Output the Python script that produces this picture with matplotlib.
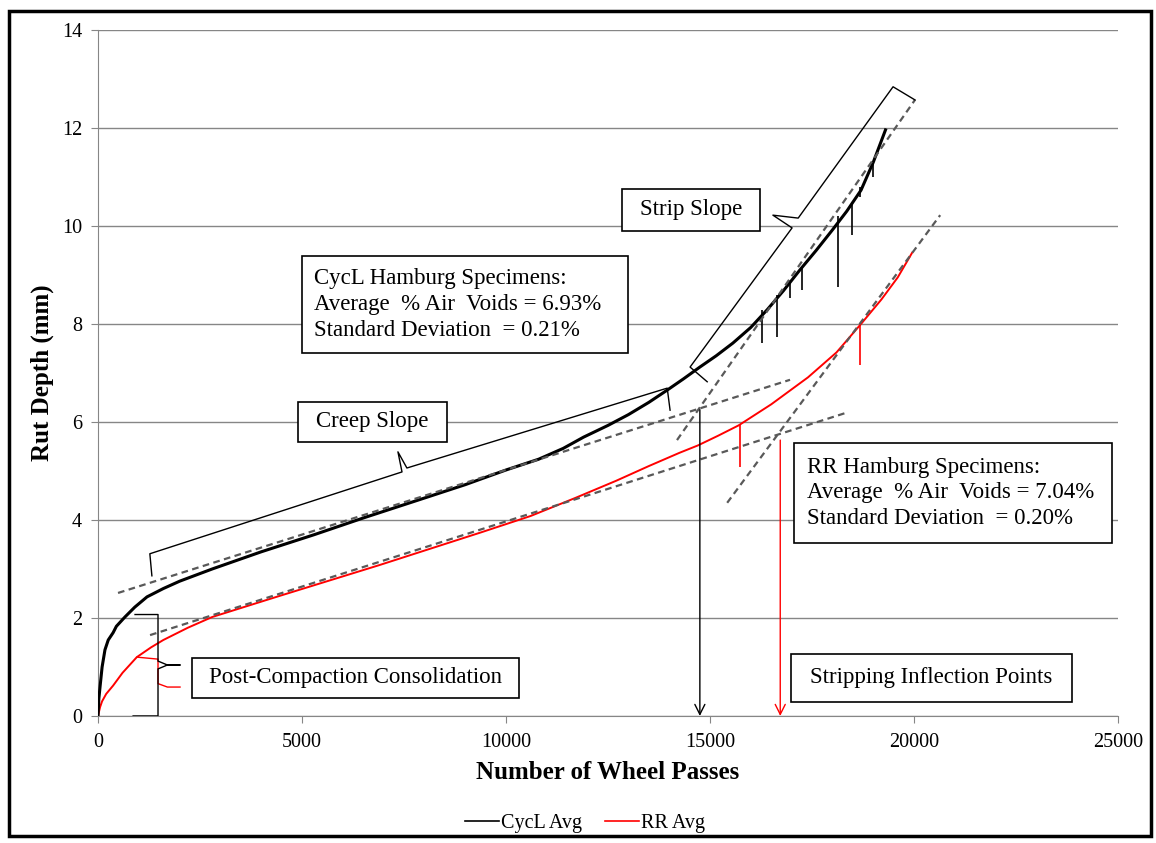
import matplotlib
matplotlib.use("Agg")
import matplotlib.pyplot as plt
from matplotlib.patches import Rectangle
from matplotlib.lines import Line2D

plt.rcParams['font.family'] = ['Liberation Serif', 'DejaVu Serif']

# --- data ---
cycl_x = [0, 20, 50, 100, 170, 250, 370, 450, 660, 900, 1200, 1600, 2000, 2800,
          4000, 5300, 6500, 7900, 9000, 10000, 10800, 11400, 11900, 12500, 13000,
          13500, 13950, 14350, 14750, 15150, 15560, 16000, 16400, 16800, 17200,
          17600, 18000, 18350, 18700, 19000, 19300]
cycl_y = [0, 0.35, 0.6, 1.0, 1.35, 1.55, 1.7, 1.83, 2.02, 2.22, 2.43, 2.6, 2.75,
          3.0, 3.35, 3.7, 4.04, 4.42, 4.72, 5.02, 5.24, 5.46, 5.69, 5.93, 6.15,
          6.4, 6.65, 6.88, 7.12, 7.35, 7.61, 7.93, 8.29, 8.68, 9.10, 9.5, 9.92,
          10.3, 10.73, 11.3, 11.96]

rr_x = [0, 50, 100, 200, 370, 600, 950, 1300, 1600, 2200, 2800, 4450, 6900, 9400,
        10600, 11700, 12700, 13500, 14250, 14700, 15200, 15700, 16500, 17400,
        18100, 18700, 19200, 19600, 19950]
rr_y = [0, 0.18, 0.3, 0.45, 0.62, 0.88, 1.2, 1.4, 1.55, 1.8, 2.02, 2.45, 3.08,
        3.75, 4.08, 4.45, 4.8, 5.1, 5.37, 5.52, 5.72, 5.93, 6.36, 6.91, 7.42,
        8.0, 8.5, 8.95, 9.45]

# downward spikes in the averaged data (x, top, bottom)
cycl_spike_x = [16270, 16640, 16960, 17250, 18140, 18480, 18680, 19000]
cycl_spike_top = [8.28, 8.6, 8.9, 9.16, 10.2, 10.45, 10.8, 11.29]
cycl_spike_bot = [7.61, 7.73, 8.53, 8.69, 8.76, 9.82, 10.6, 11.0]
rr_spike_x = [15730, 18680]
rr_spike_top = [5.94, 7.98]
rr_spike_bot = [5.08, 7.16]

# fitted creep / strip slope lines (start, end)
cycl_creep = ([490, 16960], [2.51, 6.86])
rr_creep = ([1275, 18310], [1.65, 6.18])
cycl_strip = ([14190, 20020], [5.63, 12.57])
rr_strip = ([15420, 20640], [4.35, 10.22])

# stripping inflection points
sip_cycl = (14750, 6.25)
sip_rr = (16720, 5.63)

# bracket outlines
creep_brace_x = [1320, 1270, 7450, 7350, 7570, 13950, 14020]
creep_brace_y = [2.86, 3.31, 4.98, 5.39, 5.06, 6.69, 6.24]
strip_brace_x = [14930, 14510, 17010, 16540, 17160, 19485, 20025]
strip_brace_y = [6.82, 7.12, 9.96, 10.22, 10.16, 12.84, 12.57]
pcc_black_x = [907, 1470, 1470, 1700, 2010, 1700, 1470, 1470, 860]
pcc_black_y = [2.07, 2.07, 1.12, 1.04, 1.04, 1.04, 0.96, 0.0, 0.0]
pcc_red_x = [956, 1470, 1470, 1700, 2010]
pcc_red_y = [1.2, 1.16, 0.66, 0.59, 0.59]

x_ticks = [0, 5000, 10000, 15000, 20000, 25000]
y_ticks = [0, 2, 4, 6, 8, 10, 12, 14]

fig = plt.figure(figsize=(11.56, 8.43), dpi=100)
ax = fig.add_axes([0.0848, 0.1507, 0.8824, 0.8138])

grid_c = '#868686'
ax.set_xlim(0, 25000)
ax.set_ylim(0, 14)
ax.set_xticks(x_ticks)
ax.set_yticks(y_ticks)
ax.yaxis.grid(True, color=grid_c, lw=1)
ax.set_axisbelow(True)
for s in ['top', 'right']:
    ax.spines[s].set_visible(False)
for s in ['left', 'bottom']:
    ax.spines[s].set_color(grid_c)
ax.tick_params(axis='both', colors=grid_c, labelcolor='black', labelsize=14.5,
               length=5, direction='out')
ax.tick_params(axis='x', pad=7.5)
ax.tick_params(axis='y', pad=6.5)

ax.set_xlabel('Number of Wheel Passes', fontsize=18, fontweight='bold', labelpad=6.5)
ax.set_ylabel('Rut Depth (mm)', fontsize=18, fontweight='bold', labelpad=5.5)

# dashed fit lines
dash_c = '#595959'
for xs, ys in [cycl_creep, rr_creep, cycl_strip, rr_strip]:
    ax.plot(xs, ys, color=dash_c, lw=1.6, ls=(0, (3, 2)), zorder=4)

# data
ax.plot(rr_x, rr_y, color='red', lw=1.4, zorder=3)
ax.vlines(rr_spike_x, rr_spike_bot, rr_spike_top, color='red', lw=1.2, zorder=3)
ax.plot(cycl_x, cycl_y, color='black', lw=2.2, zorder=3)
ax.vlines(cycl_spike_x, cycl_spike_bot, cycl_spike_top, color='black', lw=1.2, zorder=3)

# brackets
ax.plot(creep_brace_x, creep_brace_y, color='black', lw=1, zorder=5)
ax.plot(strip_brace_x, strip_brace_y, color='black', lw=1, zorder=5)
ax.plot(pcc_red_x, pcc_red_y, color='red', lw=1, zorder=5)
ax.plot(pcc_black_x, pcc_black_y, color='black', lw=1, zorder=5)

# inflection arrows
ax.annotate('', xy=(sip_cycl[0], 0), xytext=sip_cycl,
            arrowprops=dict(arrowstyle='->', color='black', lw=1,
                            mutation_scale=18, shrinkA=0, shrinkB=0), zorder=6)
ax.annotate('', xy=(sip_rr[0], 0), xytext=sip_rr,
            arrowprops=dict(arrowstyle='->', color='red', lw=1,
                            mutation_scale=18, shrinkA=0, shrinkB=0), zorder=6)

# text boxes (x0, x1, y0, y1 in data units)
def box(x0, x1, y0, y1, text, tx=None, ha='center'):
    ax.add_patch(Rectangle((x0, y0), x1 - x0, y1 - y0, fc='white', ec='black',
                           lw=1.2, zorder=7, clip_on=False))
    if tx is None:
        tx = (x0 + x1) / 2
    ax.text(tx, (y0 + y1) / 2, text, ha=ha, va='center', fontsize=16.5,
            linespacing=1.3, zorder=8)

box(5000, 12990, 7.41, 9.39,
    'CycL Hamburg Specimens:\nAverage  % Air  Voids = 6.93%\nStandard Deviation  = 0.21%',
    tx=5300, ha='left')
box(17060, 24850, 3.53, 5.57,
    'RR Hamburg Specimens:\nAverage  % Air  Voids = 7.04%\nStandard Deviation  = 0.20%',
    tx=17380, ha='left')
box(12840, 16230, 9.90, 10.76, 'Strip Slope')
box(4900, 8550, 5.59, 6.41, 'Creep Slope')
box(2300, 10320, 0.37, 1.18, 'Post-Compaction Consolidation')
box(16990, 23870, 0.29, 1.27, 'Stripping Inflection Points')

# legend
handles = [Line2D([], [], color='black', lw=1.2), Line2D([], [], color='red', lw=1.2)]
fig.legend(handles, ['CycL Avg', 'RR Avg'], loc='center', ncol=2,
           bbox_to_anchor=(585 / 1156, 1 - 823 / 843), frameon=False,
           fontsize=14.5, handlelength=1.7, handletextpad=0.1, columnspacing=1.1)

# outer chart frame
fig.add_artist(Rectangle((9 / 1156, 7 / 843), 1142 / 1156, 825 / 843,
                         transform=fig.transFigure, fill=False, ec='black', lw=2.5))

fig.savefig('out.png', dpi=100)
